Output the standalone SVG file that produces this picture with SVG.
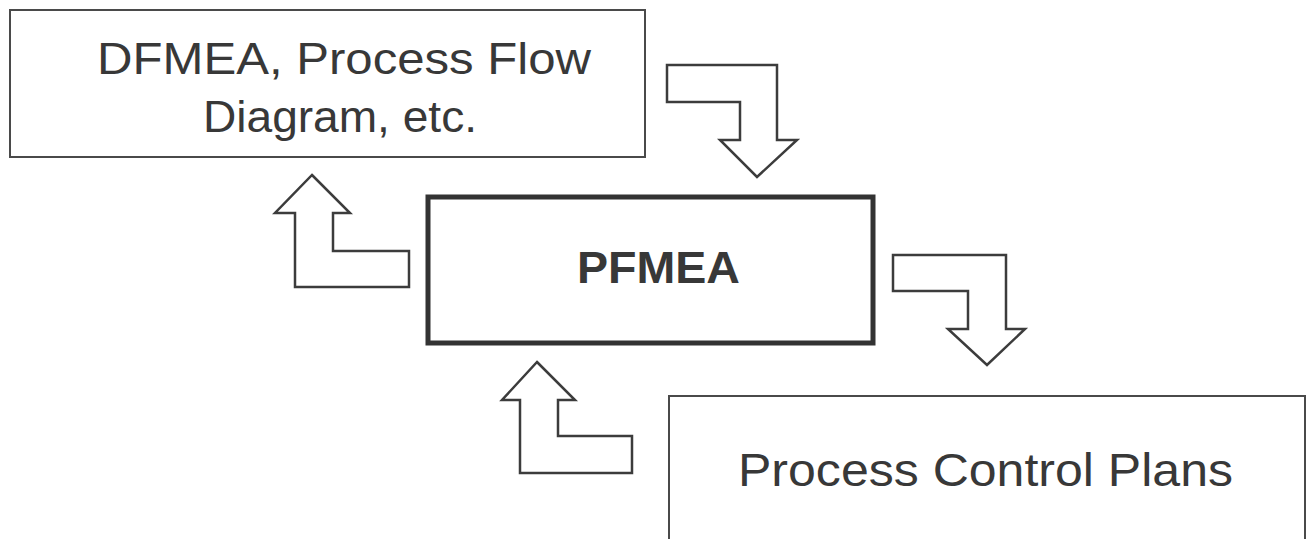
<svg xmlns="http://www.w3.org/2000/svg" width="1310" height="539" viewBox="0 0 1310 539">
  <style>
    .box { fill: #ffffff; stroke: #4a4a4a; stroke-width: 2; }
    .main { fill: #ffffff; stroke: #333333; stroke-width: 5; }
    .flow { fill: #ffffff; stroke: #3c3c3c; stroke-width: 2.5; stroke-linejoin: miter; }
    .lbl { font-family: "Liberation Sans", Arial, sans-serif; fill: #383838; }
  </style>
  <rect width="1310" height="539" fill="#ffffff"/>

  <g id="inputs">
    <rect class="box" x="10" y="10" width="635" height="147"/>
    <text class="lbl" x="97" y="74" font-size="45" textLength="494" lengthAdjust="spacingAndGlyphs">DFMEA, Process Flow</text>
    <text class="lbl" x="203" y="132" font-size="45" textLength="274" lengthAdjust="spacingAndGlyphs">Diagram, etc.</text>
  </g>

  <g id="pfmea">
    <rect class="main" x="428" y="197" width="445" height="146"/>
    <text class="lbl" x="577" y="283" font-size="44" font-weight="bold" textLength="163" lengthAdjust="spacingAndGlyphs">PFMEA</text>
  </g>

  <g id="control-plans">
    <rect class="box" x="669" y="396" width="636" height="150"/>
    <text class="lbl" x="738" y="486" font-size="46" textLength="495" lengthAdjust="spacingAndGlyphs">Process Control Plans</text>
  </g>

  <g id="connectors">
    <!-- inputs feed into PFMEA -->
    <path class="flow" d="M667,65 L777,65 L777,140 L797,140 L757,177 L720,140 L740,140 L740,102 L667,102 Z"/>
    <!-- PFMEA feeds back to inputs -->
    <path class="flow" d="M312,175 L350,213 L333,213 L333,251 L409,251 L409,287 L295,287 L295,213 L275,213 Z"/>
    <!-- PFMEA feeds control plans -->
    <path class="flow" d="M893,255 L1006,255 L1006,329 L1025,329 L987,365 L948,329 L968,329 L968,291 L893,291 Z"/>
    <!-- control plans feed back to PFMEA -->
    <path class="flow" d="M537,362 L575,400 L558,400 L558,436 L632,436 L632,473 L520,473 L520,400 L502,400 Z"/>
  </g>
</svg>
